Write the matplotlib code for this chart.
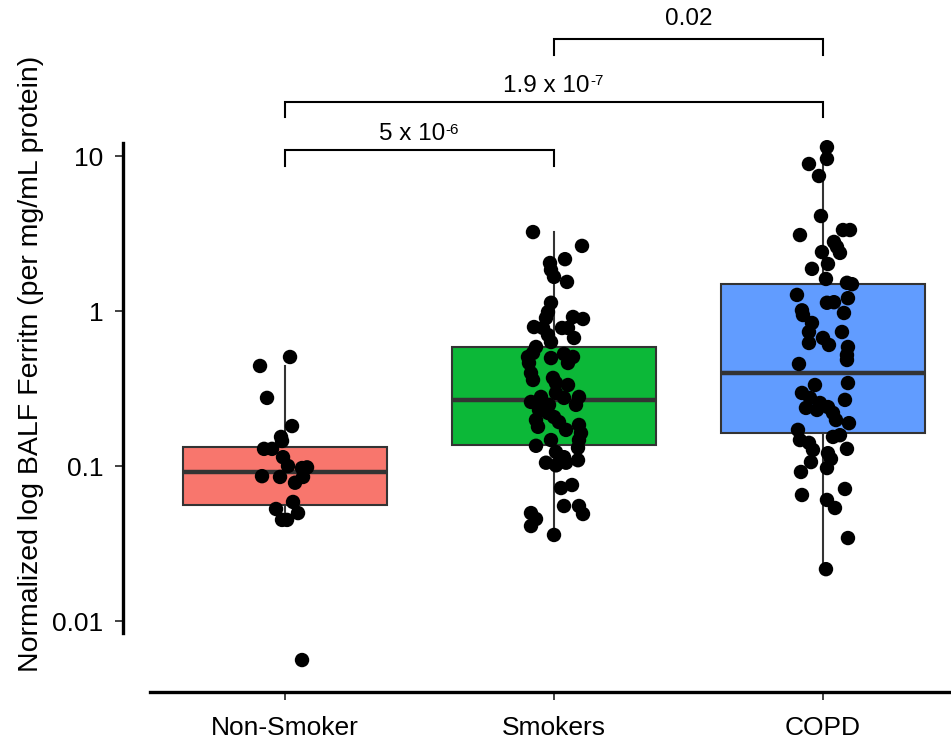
import numpy as np
import matplotlib
matplotlib.use("Agg")
import matplotlib.pyplot as plt

plt.rcParams['font.family'] = ['Liberation Sans', 'DejaVu Sans']

# ---------------- data ----------------
categories = ["Non-Smoker", "Smokers", "COPD"]
colors = ["#F8766D", "#0CB838", "#619CFF"]

nonsmoker_vals = [0.442, 0.505, 0.275, 0.181, 0.154, 0.145, 0.129, 0.129, 0.114, 0.100,
                  0.097, 0.098, 0.085, 0.086, 0.085, 0.078, 0.0586, 0.0528, 0.0449, 0.0497,
                  0.0449, 0.0056]
nonsmoker_jit = [-25, 5, -18, 7, -4, -3, -21, -13, -2, 3, 17, 22, 18, -23, -5, 10, 8, -9, -3, 13, 2, 17]

smoker_vals = [3.23, 2.63, 2.16, 2.04, 1.84, 1.66, 1.54, 1.13, 0.985, 0.901,
               0.915, 0.888, 0.788, 0.777, 0.777, 0.777, 0.670, 0.700, 0.631, 0.586,
               0.536, 0.505, 0.462, 0.497, 0.528, 0.505, 0.462, 0.398, 0.359, 0.370,
               0.343, 0.333, 0.259, 0.279, 0.296, 0.275, 0.279, 0.248, 0.248, 0.230,
               0.198, 0.179, 0.220, 0.207, 0.192, 0.171, 0.184, 0.163, 0.147, 0.135,
               0.147, 0.123, 0.114, 0.131, 0.109, 0.105, 0.101, 0.105, 0.0721, 0.0754,
               0.0552, 0.0552, 0.0490, 0.0497, 0.0455, 0.0410, 0.0359]
smoker_jit = [-21, 28, 11, -4, -3, 0, 13, -3, -6, -8, 19, 29, -20, -11, 8, 14, 20, -6, -3, -18,
              -21, -26, -25, -3, 10, 19, 14, -23, -21, -1, 2, 14, -23, -13, 2, 10, 25, 22, -5, -15,
              -18, -16, -6, 0, 5, 12, 25, 27, 25, -18, -3, 2, 10, 24, 24, -8, 2, 12, 7, 18,
              10, 25, 29, -23, -18, -23, 0]

copd_vals = [11.4, 9.57, 8.88, 7.43, 4.10, 3.09, 3.33, 3.33, 2.79, 2.59,
             2.37, 2.40, 2.01, 1.87, 1.61, 1.52, 1.49, 1.27, 1.13, 1.14,
             1.21, 1.01, 0.942, 0.837, 0.732, 0.971, 0.732, 0.622, 0.670, 0.604,
             0.586, 0.520, 0.483, 0.455, 0.333, 0.343, 0.296, 0.275, 0.255, 0.240,
             0.237, 0.230, 0.267, 0.220, 0.198, 0.189, 0.171, 0.147, 0.141, 0.127,
             0.154, 0.158, 0.129, 0.121, 0.111, 0.106, 0.097, 0.0915, 0.0711, 0.0650,
             0.0604, 0.0536, 0.0343, 0.0216]
copd_jit = [4, 4, -14, -4, -2, -23, 20, 27, 11, 14, 17, -1, 5, -11, 3, 24, 29, -26, 4, 11,
            25, -21, -20, -11, -14, 21, 19, -14, 0, 6, 25, 24, 24, -24, -8, 25, -21, -13, -3, 5,
            -17, -6, 22, 10, 13, 26, -25, -23, -14, -10, 10, 17, 24, 5, 8, -12, 4, -22, 22, -21,
            4, 12, 25, 3]

# box statistics
q1 = [0.056, 0.1366, 0.163]
med = [0.0914, 0.2666, 0.398]
q3 = [0.133, 0.586, 1.493]
whislo = [0.0449, 0.0359, 0.0216]
whishi = [0.442, 3.23, 11.4]

# significance brackets: (left group, right group, bar height, tip height, label height, label, exponent)
brackets = [
    (0, 1, 10.9, 8.6, 13.8, "5 x 10", "-6"),
    (0, 2, 22.3, 17.9, 28.5, "1.9 x 10", "-7"),
    (1, 2, 56.9, 44.9, 76.0, "0.02", ""),
]

# ---------------- figure ----------------
W, H = 951, 748
fig = plt.figure(figsize=(W / 100, H / 100), dpi=100)
ax = fig.add_axes([150 / W, (H - 692) / H, 801 / W, 692 / H])
ax.set_yscale('log')

stats = []
for i in range(3):
    stats.append(dict(med=med[i], q1=q1[i], q3=q3[i], whislo=whislo[i], whishi=whishi[i], fliers=[]))

bp = ax.bxp(stats, positions=[0, 1, 2], widths=0.755, patch_artist=True, showcaps=False,
            showfliers=False,
            boxprops=dict(edgecolor='#333333', linewidth=1.5),
            medianprops=dict(color='#333333', linewidth=3.2),
            whiskerprops=dict(color='#333333', linewidth=1.5), zorder=2)
for patch, c in zip(bp['boxes'], colors):
    patch.set_facecolor(c)

jit_scale = 1 / 269.0
for i, (vals, jit) in enumerate([(nonsmoker_vals, nonsmoker_jit),
                                 (smoker_vals, smoker_jit),
                                 (copd_vals, copd_jit)]):
    xs = i + np.array(jit) * jit_scale
    ax.scatter(xs, vals, s=108, color='black', edgecolor='none', zorder=3)

for a, b, hbar, htip, hlab, lab, sup in brackets:
    ax.plot([a, a, b, b], [htip, hbar, hbar, htip], color='black', lw=1.5, zorder=4,
            solid_joinstyle='miter')
    shift = -5.5 if sup else 0
    t = ax.annotate(lab, xy=((a + b) / 2, hlab), xytext=(shift, 0), textcoords='offset points',
                    ha='center', va='center', fontsize=17.5, color='black')
    if sup:
        ax.annotate(sup, xy=(1, 1), xycoords=t, xytext=(0.3, 0.5), textcoords='offset points',
                    ha='left', va='top', fontsize=11, color='black')

ax.set_xlim(-0.502, 2.476)
ax.set_ylim(0.003483, 101.5)

ax.set_xticks([0, 1, 2])
ax.set_xticklabels(categories)
ax.set_yticks([0.01, 0.1, 1, 10])
ax.set_yticklabels(["0.01", "0.1", "1", "10"])
ax.yaxis.set_minor_locator(matplotlib.ticker.NullLocator())
ax.tick_params(axis='both', which='major', direction='out', length=6, width=1.3,
               color='#333333', labelcolor='black', labelsize=19)
ax.tick_params(axis='y', pad=8)
ax.tick_params(axis='x', pad=11)

for s in ['top', 'right']:
    ax.spines[s].set_visible(False)
ax.spines['left'].set_linewidth(2.4)
ax.spines['bottom'].set_linewidth(2.4)
ax.spines['left'].set_position(('outward', 27 * 0.72))
ax.spines['left'].set_bounds(0.00837, 12.1)
ax.patch.set_alpha(0)

fig.text(31 / W, 1 - 364 / H, "Normalized log BALF Ferritn (per mg/mL protein)",
         rotation=90, ha='center', va='center', fontsize=20.5)

fig.savefig("out.png", dpi=100)
